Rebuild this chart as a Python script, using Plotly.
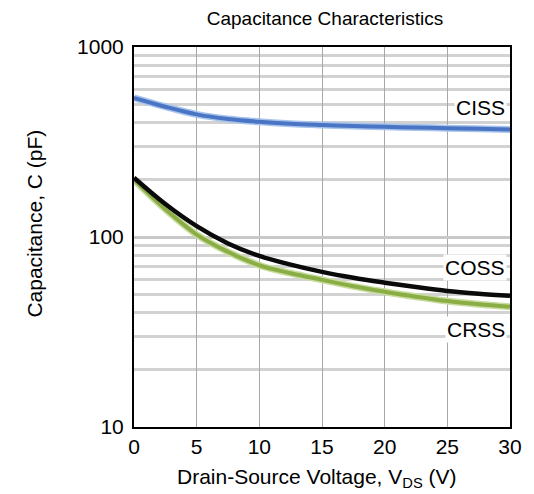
import plotly.graph_objects as go
import math

vds = [0, 2.5, 5, 7.5, 10, 12.5, 15, 17.5, 20, 22.5, 25, 27.5, 30]
ciss = [540, 485, 442, 418, 404, 395, 389, 384, 380, 377, 374, 371, 368]
coss = [205, 149, 114, 92.5, 79.5, 71.5, 65.5, 61, 57.5, 54.5, 52, 50.3, 49]
crss = [200, 140, 103, 83.5, 71, 64.5, 59.5, 55, 51.5, 48.5, 46, 44.3, 43]

x_ticks = [0, 5, 10, 15, 20, 25, 30]
y_ticks = [10, 100, 1000]

FONT = "Liberation Sans, Arial, sans-serif"

# plot box in pixels
L, R, T, B = 134, 516, 47, 427
W, H = 534, 494

fig = go.Figure()
fig.add_trace(go.Scatter(x=vds, y=crss, mode="lines", line=dict(color="#c9dca0", width=7, shape="spline"), hoverinfo="skip"))
fig.add_trace(go.Scatter(x=vds, y=crss, mode="lines", line=dict(color="#8aae45", width=4, shape="spline"), name="CRSS"))
fig.add_trace(go.Scatter(x=vds, y=coss, mode="lines", line=dict(color="#0a0a0a", width=4.5, shape="spline"), name="COSS"))
fig.add_trace(go.Scatter(x=vds, y=ciss, mode="lines", line=dict(color="#a8c4ec", width=7, shape="spline"), hoverinfo="skip"))
fig.add_trace(go.Scatter(x=vds, y=ciss, mode="lines", line=dict(color="#4a74c4", width=4, shape="spline"), name="CISS"))

labels = [("CISS", 483), ("COSS", 69.5), ("CRSS", 32.5)]
for txt, yv in labels:
    fig.add_annotation(x=1, xref="paper", xanchor="right", xshift=-3,
                       y=math.log10(yv), yref="y", yanchor="middle",
                       text=txt, showarrow=False, bgcolor="white", borderpad=1,
                       font=dict(family=FONT, size=21, color="black"))

# axis titles
fig.add_annotation(x=(320 - L) / (R - L), xref="paper", xanchor="center",
                   y=(B - 478) / (B - T), yref="paper", yanchor="middle",
                   text="Drain-Source Voltage, V<sub>DS</sub> (V)", showarrow=False,
                   font=dict(family=FONT, size=21, color="black"))
fig.add_annotation(x=(32 - L) / (R - L), xref="paper", xanchor="center",
                   y=(B - 224) / (B - T), yref="paper", yanchor="middle",
                   text="Capacitance, C (pF)", textangle=-90, showarrow=False,
                   font=dict(family=FONT, size=21, color="black"))

fig.update_layout(
    width=W, height=H,
    margin=dict(l=L, r=W - R, t=T, b=H - B),
    paper_bgcolor="white", plot_bgcolor="white",
    showlegend=False,
    title=dict(text="Capacitance Characteristics", x=(L + R) / 2 / W, xanchor="center",
               y=1 - 18 / H, yanchor="middle",
               font=dict(family=FONT, size=19, color="black")),
    font=dict(family=FONT, color="black"),
)
fig.update_xaxes(
    range=[0, 30], tickvals=x_ticks, ticktext=[str(v) for v in x_ticks],
    showgrid=True, gridcolor="#a8a8a8", gridwidth=1,
    showline=True, linecolor="black", linewidth=2, mirror=True,
    ticks="", zeroline=False,
    tickfont=dict(family=FONT, size=21),
)
fig.update_yaxes(
    type="log", range=[1, 3], tickvals=y_ticks, ticktext=[str(v) for v in y_ticks],
    showgrid=True, gridcolor="#c8c8c8", gridwidth=2.5,
    minor=dict(showgrid=True, gridcolor="#d2d2d2", gridwidth=2.5, ticks="", dtick="D1"),
    showline=True, linecolor="black", linewidth=2, mirror=True,
    ticks="", zeroline=False, ticklabelstandoff=4,
    tickfont=dict(family=FONT, size=21),
)

fig.write_html("out.html")
